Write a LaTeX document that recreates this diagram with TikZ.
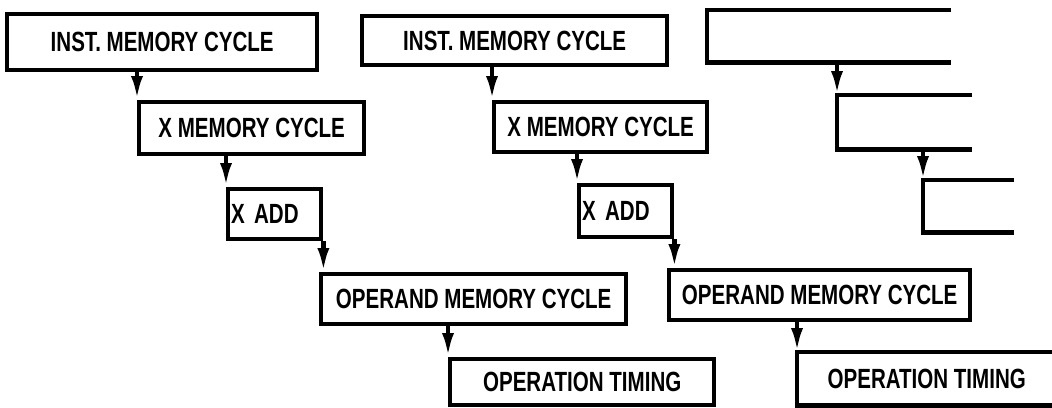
\documentclass[tikz,border=0pt]{standalone}
\usepackage{fontspec}
\newfontfamily\lblfont{Liberation Sans}[FakeStretch=0.74]
\usetikzlibrary{arrows.meta}
\tikzset{
  box/.style={draw,line width=1.25pt,anchor=north west,inner sep=0pt,
    font=\lblfont\bfseries\fontsize{7.9}{9}\selectfont},
  openbox/.style={box,draw=none},
  addbox/.style={box,text width=0.87cm,align=left,inner xsep=0.03cm},
  edge/.style={line width=1.25pt},
  arr/.style={line width=1.25pt,-{Latex[length=0.24cm,width=0.12cm]}}
}

\begin{document}
\begin{tikzpicture}
\useasboundingbox (0,0) rectangle (10.52,-4.07);
% first column
\node[box,minimum width=3.10cm,minimum height=0.56cm] (inst1) at (0.05,-0.12) {INST. MEMORY CYCLE};
\node[box,minimum width=2.25cm,minimum height=0.52cm] (xmem1) at (1.37,-1.00) {X MEMORY CYCLE};
\node[addbox,minimum width=0.93cm,minimum height=0.50cm] (xadd1) at (2.26,-1.87) {X ADD};
\node[box,minimum width=3.05cm,minimum height=0.50cm] (oper1) at (3.19,-2.72) {OPERAND MEMORY CYCLE};
\node[box,minimum width=2.64cm,minimum height=0.46cm] (optm1) at (4.48,-3.57) {OPERATION TIMING};
% second column
\node[box,minimum width=3.05cm,minimum height=0.49cm] (inst2) at (3.60,-0.14) {INST.\ MEMORY CYCLE};
\node[box,minimum width=2.13cm,minimum height=0.50cm] (xmem2) at (4.92,-1.00) {X MEMORY CYCLE};
\node[addbox,minimum width=0.88cm,minimum height=0.52cm] (xadd2) at (5.77,-1.83) {X ADD};
\node[box,minimum width=3.01cm,minimum height=0.50cm] (oper2) at (6.67,-2.68) {OPERAND MEMORY CYCLE};
\node[openbox,minimum width=2.55cm,minimum height=0.49cm] (optm2) at (7.97,-3.52) {OPERATION TIMING};
\draw[edge] (optm2.north east) -- (optm2.north west) -- (optm2.south west) -- (optm2.south east);
% third column, cut off
\node[openbox,minimum width=2.40cm,minimum height=0.48cm] (blk1) at (7.07,-0.10) {};
\node[openbox,minimum width=1.31cm,minimum height=0.50cm] (blk2) at (8.37,-0.95) {};
\node[openbox,minimum width=0.87cm,minimum height=0.48cm] (blk3) at (9.23,-1.80) {};
\foreach \b in {blk1,blk2,blk3}
  \draw[edge] (\b.north east) -- (\b.north west) -- (\b.south west) -- (\b.south east);
% arrows
\draw[arr] (inst1.south -| xmem1.west) -- (xmem1.north west);
\draw[arr] (xmem1.south -| xadd1.west) -- (xadd1.north west);
\draw[arr] (xadd1.south east) -- (xadd1.south east |- oper1.north);
\draw[arr] (oper1.south -| optm1.west) -- (optm1.north west);
\draw[arr] (inst2.south -| xmem2.west) -- (xmem2.north west);
\draw[arr] (xmem2.south -| xadd2.west) -- (xadd2.north west);
\draw[arr] (xadd2.south east) -- (xadd2.south east |- oper2.north);
\draw[arr] (oper2.south -| optm2.west) -- (optm2.north west);
\draw[arr] (blk1.south -| blk2.west) -- (blk2.north west);
\draw[arr] (blk2.south -| blk3.west) -- (blk3.north west);
\end{tikzpicture}
\end{document}
